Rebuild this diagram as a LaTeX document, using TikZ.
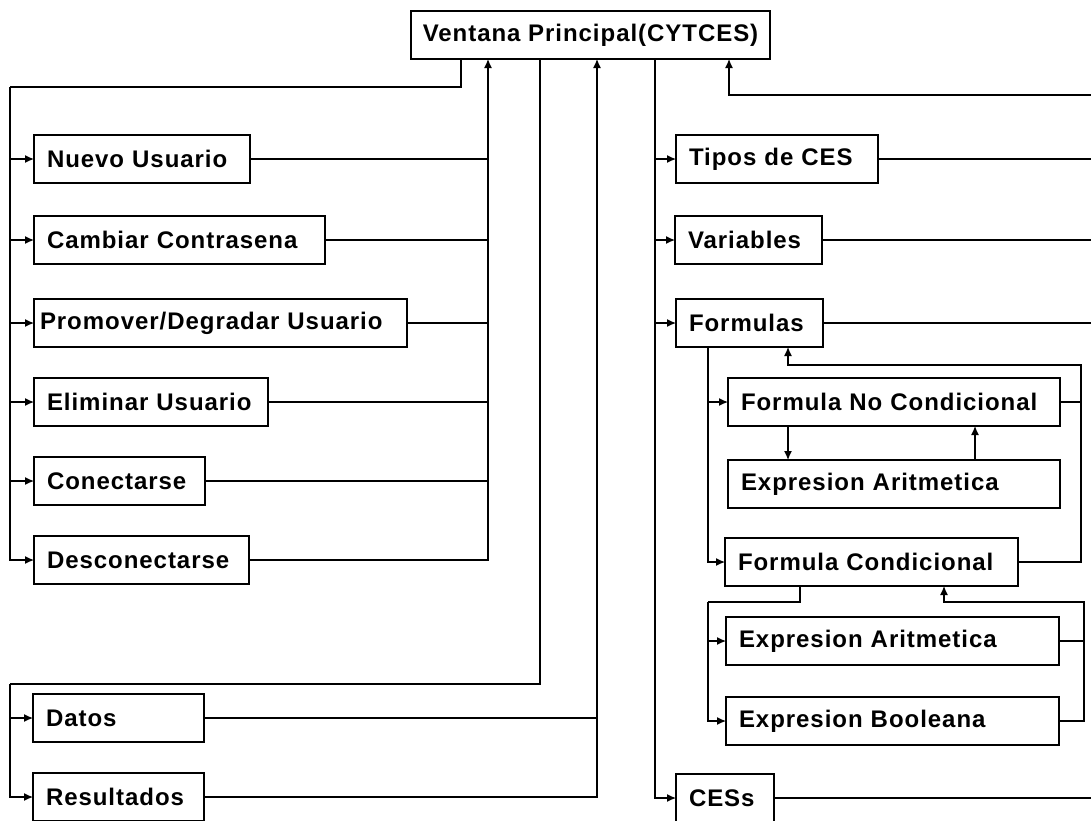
\documentclass[tikz,border=0pt]{standalone}
\usepackage{fontspec}
\newfontfamily\boxfont{Liberation Sans}[LetterSpace=4]
\usetikzlibrary{arrows.meta}

\begin{document}
\begin{tikzpicture}[x=1pt,y=-1pt,
    box/.style={draw,line width=1.3pt,anchor=west,minimum height=48pt,
      inner xsep=13pt,inner ysep=0pt,outer sep=0pt,
      font=\boxfont\bfseries\fontsize{24}{28}\selectfont},
    win/.style={box,align=left,text width=#1},
    link/.style={line width=1.3pt},
    arr/.style={link,-{Latex[length=9pt,width=8pt]}}]
      \useasboundingbox (0,0) rectangle (1091,820);
      % ventana principal
      \node[box,minimum width=359pt,inner xsep=4pt] (main) at (411,35) {Ventana Principal(CYTCES)};
      % usuarios
      \node[win=190pt] (nuevo)    at (34,159) {Nuevo Usuario};
      \node[win=265pt] (cambiar)  at (34,240) {Cambiar Contrasena};
      \node[win=361pt,inner xsep=6pt] (promover) at (34,323) {Promover/Degradar Usuario};
      \node[win=208pt] (eliminar) at (34,402) {Eliminar Usuario};
      \node[win=145pt] (conectar) at (34,481) {Conectarse};
      \node[win=189pt] (desconec) at (34,560) {Desconectarse};
      \node[win=145pt] (datos)    at (33,718) {Datos};
      \node[win=145pt] (result)   at (33,797) {Resultados};
      % ces
      \node[win=176pt] (tipos)    at (676,159) {Tipos de CES};
      \node[win=121pt] (vars)     at (675,240) {Variables};
      \node[win=121pt] (formulas) at (676,323) {Formulas};
      \node[win=306pt] (fnc)      at (728,402) {Formula No Condicional};
      \node[win=306pt] (aritA)    at (728,484) {Expresion Aritmetica};
      \node[win=267pt] (fc)       at (725,562) {Formula Condicional};
      \node[win=307pt] (aritB)    at (726,641) {Expresion Aritmetica};
      \node[win=307pt] (bool)     at (726,721) {Expresion Booleana};
      \node[win=72pt]  (cess)     at (676,798) {CESs};
      % puntos de paso
      \coordinate (lbus) at (10,87);
      \coordinate (bbus) at (10,684);
      \coordinate (redge) at (1091,95);
      \coordinate (fret) at (1081,365);
      \coordinate (cbus) at (708,602);
      \coordinate (cret) at (1084,602);
      \coordinate (up1) at ([xshift=77pt]main.south west);
      \coordinate (up2) at ([xshift=186pt]main.south west);
      \coordinate (dn3) at ([xshift=244pt]main.south west);
      % grupo izquierdo
      \draw[link] ([xshift=50pt]main.south west) |- (lbus);
      \foreach \n in {nuevo,cambiar,promover,eliminar,conectar,desconec}
        \draw[arr] (lbus) |- (\n.west);
      \foreach \n in {nuevo,cambiar,promover,eliminar,conectar}
        \draw[link] (\n.east) -- (\n.east -| up1);
      \draw[arr] (desconec.east) -| (up1);
      \draw[link] ([xshift=129pt]main.south west) |- (bbus);
      \draw[arr] (bbus) |- (datos.west);
      \draw[arr] (bbus) |- (result.west);
      \draw[link] (datos.east) -- (datos.east -| up2);
      \draw[arr] (result.east) -| (up2);
      % grupo derecho
      \foreach \n in {tipos,vars,formulas,cess}
        \draw[arr] (dn3) |- (\n.west);
      \foreach \n in {tipos,vars,formulas,cess}
        \draw[link] (\n.east) -- (\n.east -| redge);
      \draw[arr] (redge) -| ([xshift=318pt]main.south west);
      % formulas
      \draw[arr] ([xshift=32pt]formulas.south west) |- (fnc.west);
      \draw[arr] ([xshift=32pt]formulas.south west) |- (fc.west);
      \draw[link] (fnc.east) -- (fnc.east -| fret);
      \draw[arr] (fc.east) -| (fret) -| ([xshift=112pt]formulas.south west);
      \draw[arr] ([xshift=60pt]fnc.south west) -- ([xshift=60pt]aritA.north west);
      \draw[arr] ([xshift=247pt]aritA.north west) -- ([xshift=247pt]fnc.south west);
      \draw[link] ([xshift=75pt]fc.south west) |- (cbus);
      \draw[arr] (cbus) |- (aritB.west);
      \draw[arr] (cbus) |- (bool.west);
      \draw[link] (aritB.east) -- (aritB.east -| cret);
      \draw[arr] (bool.east) -| (cret) -| ([xshift=219pt]fc.south west);
\end{tikzpicture}
\end{document}
